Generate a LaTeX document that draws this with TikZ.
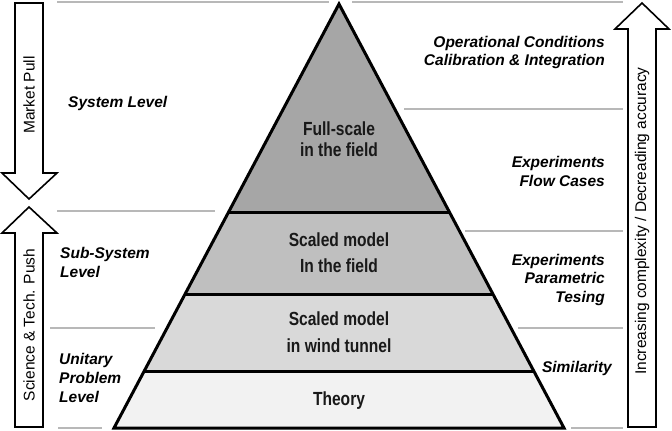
\documentclass[tikz,border=0pt]{standalone}
\usepackage{fontspec}
\setmainfont{Liberation Sans}
\newfontfamily\narrowfont[FakeStretch=0.82]{Liberation Sans}
\usetikzlibrary{calc}
\definecolor{bandA}{HTML}{A6A6A6}
\definecolor{bandB}{HTML}{BFBFBF}
\definecolor{bandC}{HTML}{D9D9D9}
\definecolor{bandD}{HTML}{F2F2F2}
\definecolor{guide}{HTML}{B8B8B8}
\tikzset{
  lbl/.style={font=\fontsize{15.5}{18}\selectfont\bfseries\itshape, inner sep=0pt},
  lblL/.style={lbl, anchor=base west},
  lblR/.style={lbl, anchor=base east},
  pyr/.style={font=\fontsize{19}{22}\selectfont\narrowfont\bfseries, inner sep=0pt, anchor=base, text=black!90},
  guideline/.style={draw=guide, line width=1.2pt},
  bigarrow/.style={draw=black, fill=white, line width=1.6pt, line join=miter},
  arrtxt/.style={font=\fontsize{15.5}{18}\selectfont, inner sep=0pt, rotate=90},
  band/.style={line width=3pt, draw=black}
}
\begin{document}
\begin{tikzpicture}[x=1pt,y=-1pt]
\useasboundingbox (0,0) rectangle (672,431);
% guide lines
\draw[guideline] (57,2) -- (329,2);
\draw[guideline] (352,2) -- (623,2);
\draw[guideline] (57,211) -- (215,211);
\draw[guideline] (50,328) -- (155,328);
\draw[guideline] (58,428) -- (102,428);
\draw[guideline] (404,109) -- (623,109);
\draw[guideline] (465,231) -- (623,231);
\draw[guideline] (518,328) -- (623,328);
\draw[guideline] (571,428) -- (623,428);
% pyramid
\coordinate (apex) at (339,4);
\coordinate (bl) at (114,428);
\coordinate (br) at (564,428);
\coordinate (l1) at ($(apex)!0.4906!(bl)$);
\coordinate (r1) at ($(apex)!0.4906!(br)$);
\coordinate (l2) at ($(apex)!0.684!(bl)$);
\coordinate (r2) at ($(apex)!0.684!(br)$);
\coordinate (l3) at ($(apex)!0.8656!(bl)$);
\coordinate (r3) at ($(apex)!0.8656!(br)$);
\fill[bandA] (apex) -- (l1) -- (r1) -- cycle;
\fill[bandB] (l1) -- (l2) -- (r2) -- (r1) -- cycle;
\fill[bandC] (l2) -- (l3) -- (r3) -- (r2) -- cycle;
\fill[bandD] (l3) -- (bl) -- (br) -- (r3) -- cycle;
\draw[band] (l1) -- (r1);
\draw[band] (l2) -- (r2);
\draw[band] (l3) -- (r3);
\draw[band, line join=miter] (apex) -- (bl) -- (br) -- cycle;
% pyramid texts
\node[pyr] (p1a) at (339,135) {Full-scale};
\node[pyr] (p1b) at (339,156) {in the field};
\node[pyr] (p2a) at (339,246) {Scaled model};
\node[pyr] (p2b) at (339,272) {In the field};
\node[pyr] (p3a) at (339,325) {Scaled model};
\node[pyr] (p3b) at (339,352) {in wind tunnel};
\node[pyr] (p4a) at (339,405) {Theory};
% left labels
\node[lblL] (sys) at (68,107) {System Level};
\node[lblL] (sub1) at (60,258) {Sub-System};
\node[lblL] (sub2) at (60,277) {Level};
\node[lblL] (uni1) at (59,364) {Unitary};
\node[lblL] (uni2) at (59,383) {Problem};
\node[lblL] (uni3) at (59,402) {Level};
% right labels
\node[lblR] (op1) at (605,47) {Operational Conditions};
\node[lblR] (op2) at (605,65) {Calibration \& Integration};
\node[lblR] (ex1) at (605,167) {Experiments};
\node[lblR] (ex2) at (605,186) {Flow Cases};
\node[lblR] (pa1) at (605,265) {Experiments};
\node[lblR] (pa2) at (605,283) {Parametric};
\node[lblR] (pa3) at (605,302) {Tesing};
\node[lblR] (sim) at (612,372) {Similarity};
% big arrows
\draw[bigarrow] (15,3) -- (43,3) -- (43,173) -- (57,173) -- (29,199) -- (2,173) -- (15,173) -- cycle;
\node[arrtxt] (mp) at (29,95) {Market Pull};
\draw[bigarrow] (29,207) -- (57,233) -- (43,233) -- (43,427) -- (15,427) -- (15,233) -- (2,233) -- cycle;
\node[arrtxt] (stp) at (29,325) {Science \& Tech. Push};
\draw[bigarrow] (642,3) -- (669,29) -- (656,29) -- (656,427) -- (628,427) -- (628,29) -- (615,29) -- cycle;
\node[arrtxt] (inc) at (642,221) {Increasing complexity / Decreading accuracy};
\end{tikzpicture}
\end{document}
